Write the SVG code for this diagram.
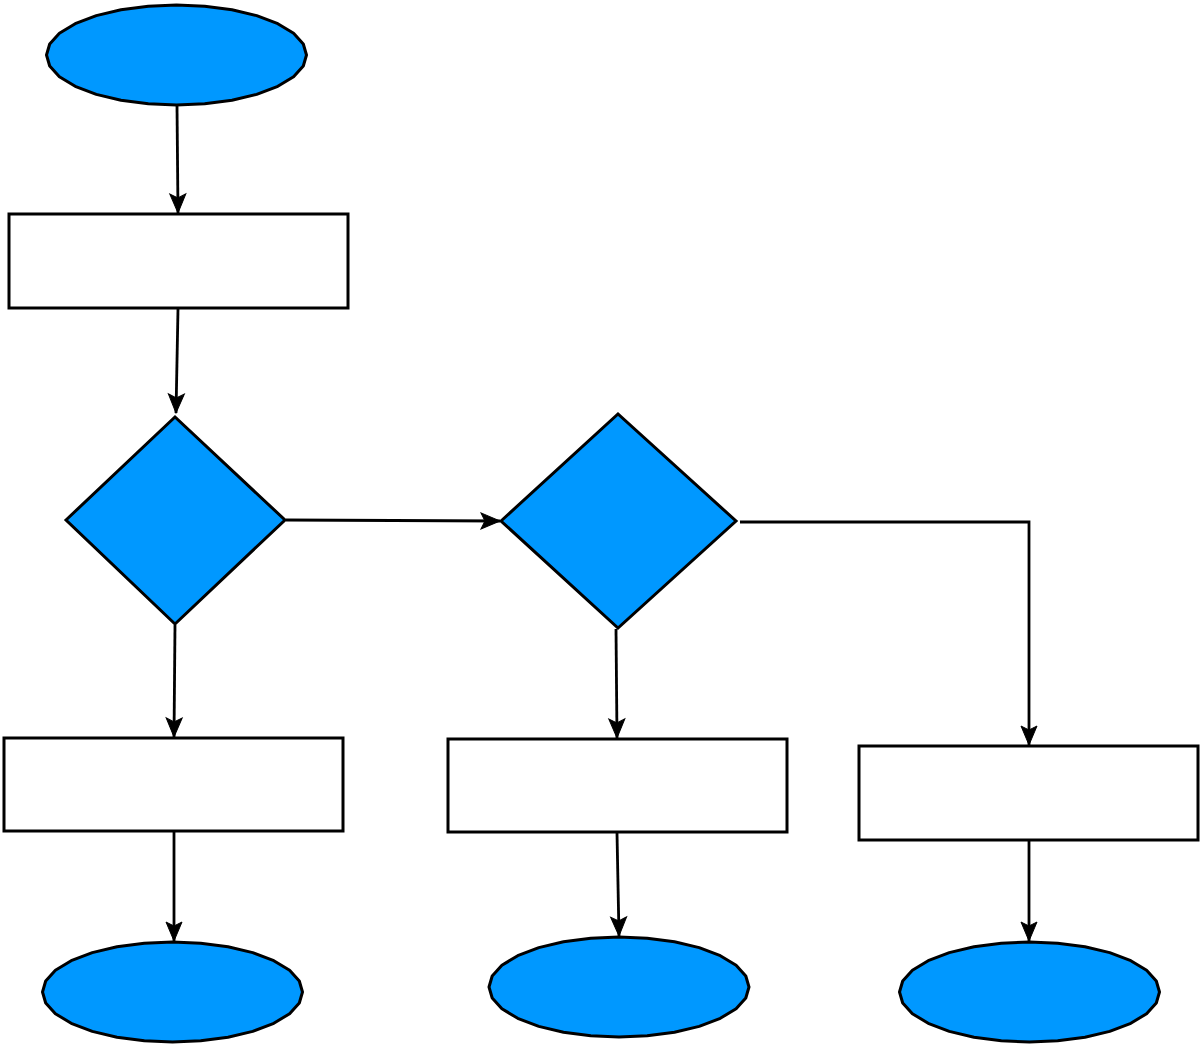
<svg xmlns="http://www.w3.org/2000/svg" xmlns:xlink="http://www.w3.org/1999/xlink" width="1200" height="1046" viewBox="0 0 1200 1046">
<style>
.ell{fill:#0098ff;stroke:#000;stroke-width:3;stroke-linejoin:round}
.dia{fill:#0098ff;stroke:#000;stroke-width:3;stroke-linejoin:miter}
.box{fill:#fff;stroke:#000;stroke-width:3}
.con{fill:none;stroke:#000;stroke-width:2.8}
.head{fill:#000;stroke:#000;stroke-width:1;stroke-linejoin:miter}
</style>
<defs>
<polygon id="ellshape" points="130,0 126.8,11 117.1,21.7 101.3,31.3 80.2,39.4 55.5,45.2 28.2,48.8 0,50 -28.2,48.8 -55.5,45.2 -80.2,39.4 -101.3,31.3 -117.1,21.7 -126.8,11 -130,0 -126.8,-11 -117.1,-21.7 -101.3,-31.3 -80.2,-39.4 -55.5,-45.2 -28.2,-48.8 0,-50 28.2,-48.8 55.5,-45.2 80.2,-39.4 101.3,-31.3 117.1,-21.7 126.8,-11"/>
<marker id="arr" markerUnits="userSpaceOnUse" markerWidth="24" markerHeight="22" refX="20" refY="11" orient="auto" overflow="visible">
<path class="head" d="M1,3 L20,11 L1,19 L5,11 z"/>
</marker>
</defs>
<rect width="1200" height="1046" fill="#fff"/>
<g id="connectors">
<path class="con" d="M177,106 L178,213" marker-end="url(#arr)"/>
<path class="con" d="M178,309 L176,413" marker-end="url(#arr)"/>
<path class="con" d="M286,520 L500,521" marker-end="url(#arr)"/>
<path class="con" d="M175,625 L174,737" marker-end="url(#arr)"/>
<path class="con" d="M740,522 L1029,522 L1029,745" marker-end="url(#arr)"/>
<path class="con" d="M616,629 L617,738" marker-end="url(#arr)"/>
<path class="con" d="M174,832 L174,941" marker-end="url(#arr)"/>
<path class="con" d="M617,833 L619,936" marker-end="url(#arr)"/>
<path class="con" d="M1029,841 L1029,941" marker-end="url(#arr)"/>
</g>
<g id="start"><use xlink:href="#ellshape" class="ell" transform="translate(176.5,55)"/></g>
<g id="process1"><rect class="box" x="9" y="214" width="339" height="94"/></g>
<g id="decision1"><polygon class="dia" points="66,520 175,417 285,520 175,624"/></g>
<g id="decision2"><polygon class="dia" points="501,521 618,414 736,521 618,628"/></g>
<g id="process2"><rect class="box" x="4" y="738" width="339" height="93"/></g>
<g id="process3"><rect class="box" x="448" y="739" width="339" height="93"/></g>
<g id="process4"><rect class="box" x="859" y="746" width="339" height="94"/></g>
<g id="end1"><use xlink:href="#ellshape" class="ell" transform="translate(172.5,992)"/></g>
<g id="end2"><use xlink:href="#ellshape" class="ell" transform="translate(619,987)"/></g>
<g id="end3"><use xlink:href="#ellshape" class="ell" transform="translate(1029.5,992)"/></g>
</svg>
